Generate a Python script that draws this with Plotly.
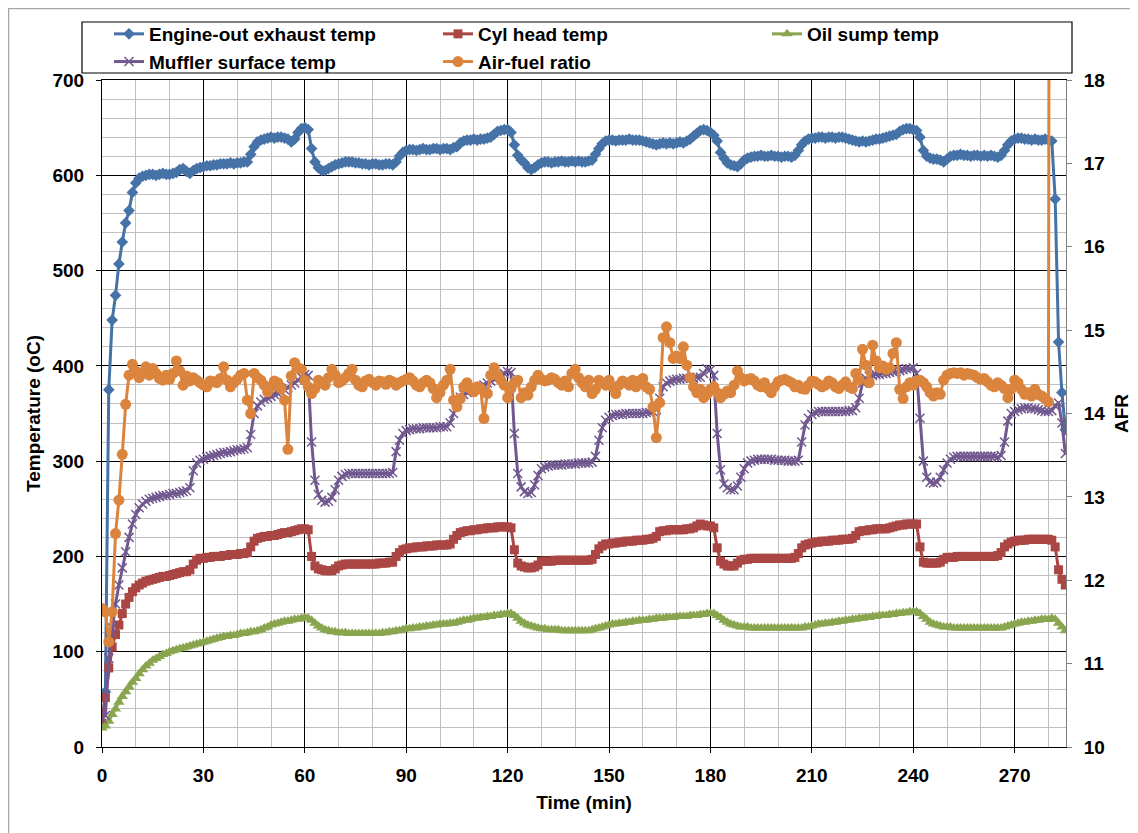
import plotly.graph_objs as go

# time axis, one reading per minute
minutes = list(range(0, 286))

# Engine-out exhaust temp (oC)
exhaust_temp = [
    25, 58, 375, 448, 474, 507, 530, 550, 563, 582,
    592, 597, 599, 600, 601, 601, 600, 601, 602, 601,
    601, 602, 603, 606, 607, 604, 602, 605, 607, 608,
    609, 610, 610, 611, 611, 612, 612, 612, 613, 612,
    613, 613, 614, 614, 622, 630, 635, 637, 638, 639,
    640, 639, 640, 640, 639, 638, 635, 638, 645, 649,
    650, 648, 628, 614, 608, 605, 605, 607, 609, 611,
    612, 613, 614, 614, 614, 613, 613, 612, 612, 611,
    612, 612, 611, 611, 612, 612, 611, 614, 620, 624,
    626, 627, 627, 626, 627, 628, 627, 627, 628, 628,
    627, 628, 628, 627, 629, 630, 634, 636, 637, 637,
    638, 637, 638, 638, 639, 640, 643, 646, 647, 648,
    648, 645, 632, 621, 616, 613, 608, 606, 608, 611,
    613, 614, 614, 613, 614, 614, 615, 614, 614, 615,
    614, 615, 614, 614, 615, 616, 622, 628, 633, 636,
    637, 637, 636, 637, 637, 637, 638, 637, 637, 637,
    636, 635, 634, 633, 632, 633, 634, 633, 634, 633,
    634, 635, 634, 636, 638, 641, 644, 647, 648, 647,
    645, 642, 636, 624, 618, 613, 611, 610, 609, 612,
    616, 618, 619, 620, 620, 621, 620, 620, 621, 620,
    620, 619, 620, 620, 619, 621, 626, 632, 636, 638,
    639, 639, 640, 640, 639, 640, 640, 639, 640, 640,
    639, 638, 637, 636, 635, 636, 635, 636, 637, 638,
    638, 639, 640, 641, 642, 643, 646, 648, 649, 649,
    648, 647, 640, 626, 620, 618, 617, 617, 616, 614,
    617, 620, 621, 621, 622, 621, 621, 620, 621, 621,
    620, 621, 620, 621, 620, 619, 621, 626, 632, 636,
    638, 639, 639, 638, 638, 637, 638, 637, 637, 638,
    637, 636, 575, 425, 372, 333,
]

# Cyl head temp (oC)
cyl_head_temp = [
    25, 52, 83, 105, 118, 128, 140, 150, 157, 163,
    167, 170, 172, 174, 175, 176, 177, 178, 179, 179,
    180, 181, 182, 183, 184, 184, 186, 192, 196, 198,
    198, 199, 199, 200, 200, 200, 201, 201, 202, 202,
    202, 203, 203, 204, 210, 216, 219, 220, 221, 221,
    222, 222, 223, 224, 225, 225, 226, 227, 228, 229,
    229, 228, 200, 190, 187, 186, 185, 185, 185, 187,
    190, 191, 192, 192, 192, 192, 192, 192, 192, 192,
    192, 192, 193, 193, 193, 194, 194, 200, 204, 207,
    208, 209, 209, 210, 210, 210, 211, 211, 211, 212,
    212, 212, 212, 213, 218, 222, 225, 226, 227, 227,
    228, 228, 229, 229, 230, 230, 230, 231, 231, 231,
    231, 230, 207, 193, 190, 189, 188, 188, 189, 191,
    195, 195, 195, 195, 196, 196, 196, 196, 196, 196,
    196, 196, 196, 196, 196, 197, 202, 208, 211, 213,
    213, 214, 214, 215, 215, 216, 216, 216, 217, 217,
    217, 218, 218, 219, 221, 226, 227, 227, 228, 228,
    228, 228, 228, 229, 229, 230, 232, 234, 233, 232,
    232, 230, 209, 195, 192, 190, 190, 190, 193, 196,
    197, 197, 198, 198, 198, 198, 198, 198, 198, 198,
    198, 198, 198, 198, 198, 199, 203, 209, 212, 213,
    214, 215, 215, 216, 216, 216, 217, 217, 217, 218,
    218, 218, 219, 222, 226, 227, 227, 228, 228, 229,
    229, 229, 229, 230, 231, 232, 233, 233, 234, 234,
    234, 234, 210, 194, 193, 193, 193, 193, 194, 197,
    199, 199, 199, 200, 200, 200, 200, 200, 200, 200,
    200, 200, 200, 200, 200, 201, 204, 210, 213, 215,
    216, 217, 217, 217, 218, 218, 218, 218, 218, 218,
    218, 217, 210, 186, 176, 170,
]

# Oil sump temp (oC)
oil_sump_temp = [
    20, 22, 27, 34, 40, 47, 53, 58, 63, 68,
    72, 77, 81, 85, 88, 91, 93, 95, 97, 98,
    100, 101, 102, 103, 104, 105, 106, 107, 108, 109,
    110, 111, 112, 113, 114, 115, 116, 116, 117, 117,
    118, 119, 119, 120, 121, 121, 122, 123, 125, 126,
    128, 129, 130, 131, 132, 132, 133, 134, 134, 135,
    136, 135, 133, 130, 127, 125, 123, 122, 121, 121,
    120, 120, 120, 119, 119, 119, 119, 119, 119, 119,
    119, 119, 119, 120, 120, 121, 121, 122, 122, 123,
    124, 124, 125, 125, 126, 126, 127, 127, 128, 128,
    129, 129, 129, 130, 130, 131, 132, 133, 133, 134,
    135, 135, 136, 136, 137, 137, 138, 138, 139, 139,
    140, 140, 138, 135, 132, 130, 128, 127, 126, 125,
    124, 124, 123, 123, 123, 123, 122, 122, 122, 122,
    122, 122, 122, 122, 122, 123, 124, 125, 126, 127,
    128, 129, 129, 130, 130, 131, 131, 132, 132, 133,
    133, 133, 134, 134, 135, 135, 135, 136, 136, 136,
    137, 137, 137, 137, 138, 138, 138, 139, 139, 140,
    140, 140, 138, 136, 133, 131, 129, 128, 127, 126,
    126, 126, 125, 125, 125, 125, 125, 125, 125, 125,
    125, 125, 125, 125, 125, 125, 125, 125, 126, 126,
    127, 128, 129, 129, 130, 130, 131, 131, 132, 132,
    133, 133, 134, 134, 135, 135, 136, 136, 137, 137,
    138, 138, 138, 139, 139, 140, 140, 141, 141, 142,
    142, 142, 140, 137, 134, 131, 129, 128, 127, 126,
    126, 126, 125, 125, 125, 125, 125, 125, 125, 125,
    125, 125, 125, 125, 125, 125, 125, 126, 127, 128,
    129, 130, 131, 131, 132, 132, 133, 133, 134, 134,
    134, 135, 134, 130, 126, 122,
]

# Muffler surface temp (oC)
muffler_temp = [
    30, 33, 93, 125, 150, 170, 188, 205, 220, 234,
    244, 251, 255, 258, 260, 261, 262, 263, 264, 264,
    265, 266, 266, 267, 268, 269, 272, 290, 298, 301,
    302, 304, 305, 306, 307, 308, 309, 309, 310, 311,
    312, 312, 313, 314, 328, 350, 358, 362, 365, 366,
    368, 370, 371, 373, 375, 377, 380, 382, 385, 388,
    391, 390, 320, 280, 265, 259, 257, 258, 262, 270,
    280, 284, 286, 287, 287, 287, 287, 287, 287, 287,
    287, 287, 287, 287, 287, 287, 288, 310, 322, 329,
    332, 333, 334, 334, 334, 335, 335, 335, 335, 335,
    336, 336, 336, 340, 350, 360, 367, 370, 372, 374,
    375, 377, 378, 380, 382, 384, 386, 388, 390, 392,
    394, 393, 329, 287, 273, 268, 266, 267, 275, 285,
    292, 294, 295, 296, 296, 296, 296, 297, 297, 297,
    297, 298, 298, 298, 298, 299, 305, 322, 335, 343,
    346, 348, 349, 349, 349, 350, 350, 350, 350, 350,
    350, 351, 351, 352, 354, 366, 378, 382, 384, 385,
    386, 386, 387, 387, 387, 387, 388, 388, 392, 397,
    396, 390, 329, 291, 276, 272, 270, 270, 274, 283,
    292, 298, 300, 301, 302, 302, 302, 302, 302, 301,
    301, 301, 301, 300, 300, 300, 301, 320, 338, 345,
    349, 351, 352, 352, 352, 352, 352, 352, 352, 352,
    352, 353, 353, 356, 366, 382, 387, 389, 390, 391,
    391, 392, 392, 393, 394, 394, 395, 396, 397, 397,
    398, 392, 345, 300, 283, 278, 277, 278, 283, 291,
    298, 302, 304, 305, 305, 305, 305, 305, 305, 305,
    305, 305, 305, 305, 305, 304, 306, 320, 342, 350,
    352, 354, 355, 356, 356, 355, 355, 354, 353, 352,
    352, 353, 358, 361, 340, 308,
]

# Air-fuel ratio (right axis), logging stops after minute 281
afr = [
    11.66, 11.62, 11.26, 11.62, 12.56, 12.96, 13.51, 14.11, 14.46, 14.59,
    14.51, 14.43, 14.48, 14.56, 14.46, 14.54, 14.48, 14.42, 14.40, 14.46,
    14.41, 14.48, 14.63, 14.51, 14.34, 14.45, 14.39, 14.43, 14.40, 14.37,
    14.34, 14.32, 14.39, 14.38, 14.37, 14.42, 14.56, 14.40, 14.32, 14.37,
    14.41, 14.46, 14.48, 14.16, 14.00, 14.48, 14.43, 14.40, 14.34, 14.26,
    14.32, 14.39, 14.37, 14.30, 14.16, 13.57, 14.45, 14.61, 14.55, 14.53,
    14.40, 14.32, 14.24, 14.30, 14.40, 14.37, 14.34, 14.43, 14.53, 14.46,
    14.37, 14.39, 14.43, 14.48, 14.53, 14.40, 14.34, 14.32, 14.39, 14.41,
    14.37, 14.34, 14.39, 14.38, 14.35, 14.40, 14.38, 14.34, 14.37, 14.39,
    14.41, 14.43, 14.39, 14.34, 14.32, 14.37, 14.40, 14.37, 14.30, 14.19,
    14.25, 14.34, 14.40, 14.53, 14.16, 14.08, 14.18, 14.32, 14.37, 14.30,
    14.26, 14.32, 14.30, 13.94, 14.24, 14.46, 14.55, 14.46, 14.40, 14.34,
    14.19, 14.30, 14.37, 14.40, 14.19, 14.25, 14.22, 14.32, 14.40, 14.46,
    14.41, 14.39, 14.40, 14.43, 14.41, 14.37, 14.34, 14.39, 14.32, 14.48,
    14.53, 14.43, 14.37, 14.32, 14.40, 14.24, 14.29, 14.40, 14.37, 14.34,
    14.40, 14.32, 14.24, 14.34, 14.39, 14.37, 14.34, 14.40, 14.32, 14.39,
    14.42, 14.32, 14.29, 14.08, 13.71, 14.13, 14.91, 15.04, 14.85, 14.66,
    14.69, 14.66, 14.80, 14.58, 14.43, 14.32, 14.25, 14.29, 14.19, 14.23,
    14.29, 14.32, 14.25, 14.19, 14.23, 14.27, 14.25, 14.34, 14.51, 14.43,
    14.39, 14.41, 14.42, 14.39, 14.34, 14.32, 14.37, 14.30, 14.25, 14.32,
    14.38, 14.40, 14.41, 14.39, 14.37, 14.32, 14.34, 14.30, 14.29, 14.34,
    14.39, 14.38, 14.35, 14.32, 14.34, 14.39, 14.37, 14.32, 14.30, 14.34,
    14.38, 14.32, 14.30, 14.48, 14.40, 14.77, 14.58, 14.37, 14.82, 14.63,
    14.55, 14.57, 14.53, 14.55, 14.72, 14.85, 14.29, 14.18, 14.32, 14.37,
    14.34, 14.39, 14.40, 14.37, 14.32, 14.25, 14.21, 14.25, 14.23, 14.40,
    14.46, 14.48, 14.49, 14.48, 14.49, 14.46, 14.48, 14.47, 14.46, 14.43,
    14.41, 14.42, 14.38, 14.34, 14.32, 14.37, 14.34, 14.30, 14.19, 14.29,
    14.40, 14.37, 14.29, 14.23, 14.25, 14.21, 14.29, 14.23, 14.21, 14.18,
    14.14, 40.0,
]

x_ticks = [0, 30, 60, 90, 120, 150, 180, 210, 240, 270]

FONT = "Liberation Sans, Arial, sans-serif"
BLUE = "#4572A7"
RED = "#AA4643"
GREEN = "#89A54E"
PURPLE = "#71588F"
ORANGE = "#DB843D"
MINOR_GRID = "#c0c0c0"

# the page body adds an 8px offset, so the figure is 8px smaller than the window
W, H = 1130, 825
ML, MR, MT, MB = 94, 72, 72, 86
PW = W - ML - MR
PH = H - MT - MB


def px_x(fx):
    # figure pixel -> paper coordinate
    return (fx - ML) / PW


def px_y(fy):
    return (H - MB - fy) / PH


def main():
    fig = go.Figure()

    # temperatures on the left axis
    fig.add_trace(go.Scatter(x=minutes, y=exhaust_temp, mode="lines+markers",
                             name="Engine-out exhaust temp",
                             line=dict(color=BLUE, width=3),
                             marker=dict(symbol="diamond", size=9, color=BLUE)))
    fig.add_trace(go.Scatter(x=minutes, y=cyl_head_temp, mode="lines+markers",
                             name="Cyl head temp",
                             line=dict(color=RED, width=3),
                             marker=dict(symbol="square", size=9, color=RED)))
    fig.add_trace(go.Scatter(x=minutes, y=oil_sump_temp, mode="lines+markers",
                             name="Oil sump temp",
                             line=dict(color=GREEN, width=3),
                             marker=dict(symbol="triangle-up", size=10, color=GREEN)))
    fig.add_trace(go.Scatter(x=minutes, y=muffler_temp, mode="lines+markers",
                             name="Muffler surface temp",
                             line=dict(color=PURPLE, width=3),
                             marker=dict(symbol="x-thin", size=9, color=PURPLE,
                                         line=dict(color=PURPLE, width=1.5))))

    # AFR on the right axis
    fig.add_trace(go.Scatter(x=minutes[:len(afr)], y=afr, mode="lines+markers",
                             name="Air-fuel ratio", yaxis="y2",
                             line=dict(color=ORANGE, width=3),
                             marker=dict(symbol="circle", size=11, color=ORANGE)))

    tick_font = dict(family=FONT, size=19, color="black", weight="bold")
    title_font = dict(family=FONT, size=19, color="black", weight="bold")

    fig.update_layout(
        width=W, height=H,
        margin=dict(l=ML, r=MR, t=MT, b=MB, autoexpand=False),
        paper_bgcolor="white", plot_bgcolor="white",
        font=dict(family=FONT, size=19, color="black"),
        showlegend=True,
        # anchored on its right side so that three entries fit in a row
        legend=dict(orientation="h", x=px_x(1088), y=px_y(7),
                    xanchor="right", yanchor="top",
                    entrywidth=284, entrywidthmode="pixels",
                    borderwidth=0, bgcolor="rgba(0,0,0,0)",
                    font=dict(family=FONT, size=19, color="black", weight="bold"),
                    traceorder="normal"),
        xaxis=dict(range=[0, 285.2], tickvals=x_ticks, ticks="outside", ticklen=5,
                   tickcolor="black", tickfont=tick_font, ticklabelstandoff=6,
                   showline=True, linecolor="black", linewidth=1, mirror=True,
                   showgrid=True, gridcolor="black", gridwidth=1, zeroline=False,
                   minor=dict(dtick=10, tick0=0, showgrid=True, gridcolor=MINOR_GRID,
                              gridwidth=1.4),
                   title=dict(text="Time (min)", standoff=10, font=title_font)),
        yaxis=dict(range=[0, 700], dtick=100, ticks="outside", ticklen=5,
                   tickcolor="black", tickfont=tick_font, ticklabelstandoff=8,
                   showline=True, linecolor="black", linewidth=1,
                   showgrid=True, gridcolor="black", gridwidth=1, zeroline=False,
                   minor=dict(dtick=20, tick0=0, showgrid=True, gridcolor=MINOR_GRID,
                              gridwidth=1.4),
                   title=dict(text="Temperature (oC)", standoff=6, font=title_font)),
        yaxis2=dict(range=[10, 18], dtick=1, overlaying="y", side="right",
                    ticks="outside", ticklen=5, tickcolor="#808080",
                    tickfont=tick_font, ticklabelstandoff=8,
                    showline=True, linecolor="#808080", linewidth=1,
                    showgrid=False, zeroline=False,
                    title=dict(text="AFR", standoff=10, font=title_font)),
        shapes=[
            # chart area border
            dict(type="rect", xref="paper", yref="paper",
                 x0=px_x(0.5), x1=px_x(W + 40), y0=px_y(H + 40), y1=px_y(0.5),
                 line=dict(color="#a6a6a6", width=1.5), layer="below"),
            # legend frame
            dict(type="rect", xref="paper", yref="paper",
                 x0=px_x(74), x1=px_x(1064), y0=px_y(65), y1=px_y(14),
                 line=dict(color="black", width=1.2), layer="above"),
        ],
    )

    fig.write_html("out.html")


if __name__ == "__main__":
    main()
